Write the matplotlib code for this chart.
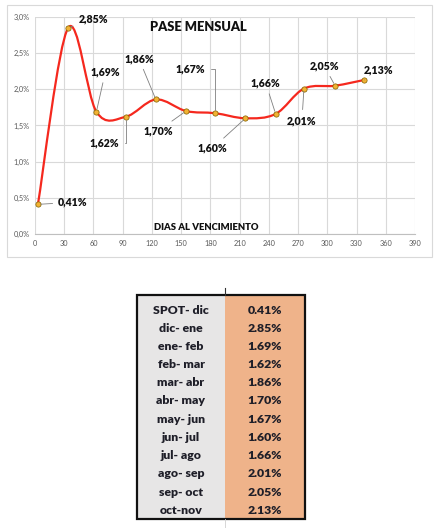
import matplotlib
matplotlib.use("Agg")
import matplotlib.pyplot as plt
from matplotlib.path import Path
from matplotlib.patches import PathPatch, Rectangle
from matplotlib.ticker import FuncFormatter, MultipleLocator

# ---- data ----
dias = [3, 34, 63, 93, 124, 155, 185, 216, 247, 276, 308, 338]
pase = [0.41, 2.85, 1.69, 1.62, 1.86, 1.70, 1.67, 1.60, 1.66, 2.01, 2.05, 2.13]
pares = ["SPOT- dic", "dic- ene", "ene- feb", "feb- mar", "mar- abr", "abr- may",
         "may- jun", "jun- jul", "jul- ago", "ago- sep", "sep- oct", "oct-nov"]
titulo = "PASE MENSUAL"
xlabel = "DIAS AL VENCIMIENTO"

# label offsets in pixels (dx, dy) and leader style
offsets = [(35, 2), (25, 9), (9, 40), (-21, -26), (-17, 41), (-28, -20),
           (-25, 44), (-33, -30), (-10, 31), (-2, -32), (-11, 20), (14, 10)]
elbow = [False, False, False, True, False, False, True, False, False, False, False, False]

plt.rcParams['font.family'] = ['Lato', 'DejaVu Sans']
W, H = 440, 528
fig = plt.figure(figsize=(W / 100, H / 100), dpi=100)

# overlay in pixel coords
ov = fig.add_axes([0, 0, 1, 1])
ov.set_xlim(0, W)
ov.set_ylim(H, 0)
ov.axis('off')
ov.add_patch(Rectangle((7, 5), 425, 252, fill=False, edgecolor='#d9d9d9', lw=0.8))

# table
tx0, tx1, tx2 = 137, 225, 305
ty0, ty1 = 295, 519
ov.add_patch(Rectangle((tx0, ty0), tx1 - tx0, ty1 - ty0, facecolor='#e7e6e6', edgecolor='none'))
ov.add_patch(Rectangle((tx1, ty0), tx2 - tx1, ty1 - ty0, facecolor='#efb38a', edgecolor='none'))
ov.add_patch(Rectangle((tx0, ty0), tx2 - tx0, ty1 - ty0, fill=False, edgecolor='#111111', lw=1.6))
ov.plot([tx1, tx1], [288, ty0], color='#333333', lw=0.8)
ov.plot([tx1, tx1], [ty1, 528], color='#d0d0d0', lw=0.6)
for i, (p, v) in enumerate(zip(pares, pase)):
    y = 310 + i * 18.2
    ov.text((tx0 + tx1) / 2, y, p, ha='center', va='center', fontsize=8.8,
            fontweight='heavy', color='#1e1e28')
    ov.text((tx1 + tx2) / 2, y, f"{v:.2f}%", ha='center', va='center', fontsize=8.8,
            fontweight='heavy', color='#1e1e28')

# chart
ax = fig.add_axes([35 / W, 1 - 234 / H, 380 / W, 217 / H])
ax.set_xlim(0, 390)
ax.set_ylim(0, 3.0)
ax.xaxis.set_major_locator(MultipleLocator(30))
ax.yaxis.set_major_locator(MultipleLocator(0.5))
ax.yaxis.set_major_formatter(FuncFormatter(lambda v, _: f"{v:.1f}%".replace('.', ',')))
ax.grid(True, color='#d9d9d9', lw=0.8)
ax.set_axisbelow(True)
for s in ['top', 'right', 'left']:
    ax.spines[s].set_visible(False)
ax.spines['bottom'].set_color('#bfbfbf')
ax.tick_params(axis='both', length=0, labelsize=5.3, labelcolor='#595959', pad=4)
ax.set_facecolor('none')

# smoothed line (Excel-style Bezier through data points)
verts = [(dias[0], pase[0])]
codes = [Path.MOVETO]
n = len(dias)
for i in range(n - 1):
    p0 = (dias[max(i - 1, 0)], pase[max(i - 1, 0)])
    p1 = (dias[i], pase[i])
    p2 = (dias[i + 1], pase[i + 1])
    p3 = (dias[min(i + 2, n - 1)], pase[min(i + 2, n - 1)])
    c1 = (p1[0] + (p2[0] - p0[0]) / 6, p1[1] + (p2[1] - p0[1]) / 6)
    c2 = (p2[0] - (p3[0] - p1[0]) / 6, p2[1] - (p3[1] - p1[1]) / 6)
    verts += [c1, c2, p2]
    codes += [Path.CURVE4] * 3
ax.add_patch(PathPatch(Path(verts, codes), facecolor='none', edgecolor='#f5281e', lw=1.6, zorder=3))
ax.plot(dias, pase, linestyle='none', marker='o', markersize=3.8,
        markerfacecolor='#f2b233', markeredgecolor='#7f6000', markeredgewidth=0.5, zorder=4)

for x, y, (dx, dy), el in zip(dias, pase, offsets, elbow):
    lab = f"{y:.2f}%".replace('.', ',')
    cs = 'angle,angleA=0,angleB=90,rad=0' if el else 'arc3'
    ax.annotate(lab, xy=(x, y), xytext=(dx, dy), textcoords='offset pixels',
                ha='center', va='center', fontsize=7.6, fontweight='heavy', color='#111111',
                arrowprops=dict(arrowstyle='-', color='#7f7f7f', lw=0.6,
                                shrinkA=2, shrinkB=2, connectionstyle=cs), zorder=5)

ax.text(0.43, 0.955, titulo, transform=ax.transAxes, ha='center', va='center',
        fontsize=9.3, fontweight='heavy', color='#111111')
ax.text(0.45, 0.03, xlabel, transform=ax.transAxes, ha='center', va='center',
        fontsize=6.8, fontweight='heavy', color='#111111')

fig.savefig("out.png", dpi=100)
